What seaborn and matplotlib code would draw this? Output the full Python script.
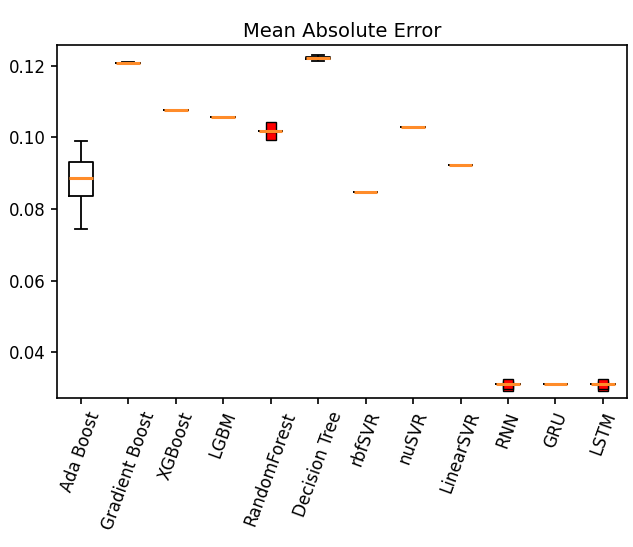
import matplotlib
matplotlib.use("Agg")
import matplotlib.pyplot as plt
import seaborn as sns
import pandas as pd

models = ["Ada Boost", "Gradient Boost", "XGBoost", "LGBM", "RandomForest",
          "Decision Tree", "rbfSVR", "nuSVR", "LinearSVR", "RNN", "GRU", "LSTM"]

ada_boost = [0.0744, 0.0836, 0.0887, 0.0931, 0.0990]
gradient_boost = [0.1206, 0.1207, 0.1208, 0.1209, 0.1210]
xgboost = [0.1077, 0.1077, 0.1077, 0.1077, 0.1077]
lgbm = [0.1057, 0.1057, 0.1057, 0.1057, 0.1057]
random_forest = [0.1006, 0.1017, 0.1018, 0.1018, 0.1019, 0.1030]
decision_tree = [0.1213, 0.1219, 0.1222, 0.1225, 0.1232]
rbf_svr = [0.0847, 0.0847, 0.0847, 0.0847, 0.0847]
nu_svr = [0.1029, 0.1029, 0.1029, 0.1029, 0.1029]
linear_svr = [0.0923, 0.0923, 0.0923, 0.0923, 0.0923]
rnn = [0.0305, 0.0310, 0.0310, 0.0310, 0.0310, 0.0312]
gru = [0.0310, 0.0310, 0.0310, 0.0310, 0.0310]
lstm = [0.0305, 0.0310, 0.0310, 0.0310, 0.0310, 0.0312]

series = [ada_boost, gradient_boost, xgboost, lgbm, random_forest, decision_tree,
          rbf_svr, nu_svr, linear_svr, rnn, gru, lstm]

rows = []
for m, vals in zip(models, series):
    for v in vals:
        rows.append({"model": m, "mae": v})
df = pd.DataFrame(rows)

fig = plt.figure(figsize=(6.33, 5.47), dpi=100)
ax = fig.add_axes([0.09, 0.272, 0.9, 0.646])

sns.boxplot(data=df, x="model", y="mae", order=models, ax=ax, fill=False,
            width=0.5, color="black", linewidth=1.3,
            medianprops=dict(color="#ff8c2a", linewidth=2.2, zorder=5),
            flierprops=dict(marker="s", markerfacecolor="red",
                            markeredgecolor="black", markersize=7))

for sp in ax.spines.values():
    sp.set_linewidth(1.2)

ax.set_ylim(0.0271, 0.1259)
ax.set_yticks([0.04, 0.06, 0.08, 0.10, 0.12])
ax.set_yticklabels(["0.04", "0.06", "0.08", "0.10", "0.12"])
ax.set_xlabel("")
ax.set_ylabel("")
ax.set_title("Mean Absolute Error", fontsize=14)
ax.tick_params(axis="both", labelsize=12, width=1.2, length=4.5)
plt.setp(ax.get_xticklabels(), rotation=70)

fig.savefig("out.png", dpi=100)
